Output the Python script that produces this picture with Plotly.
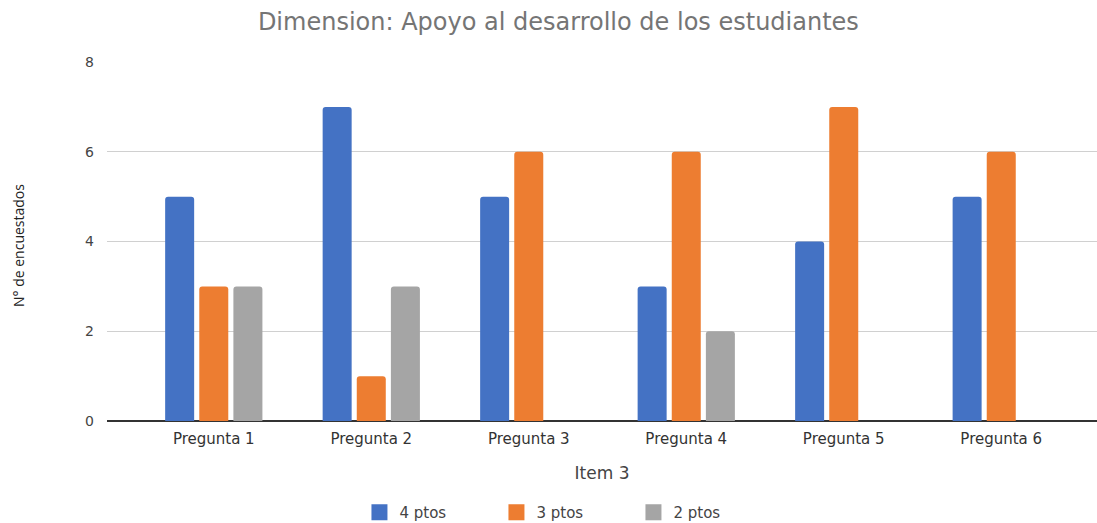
import plotly.graph_objects as go

categories = ["Pregunta 1", "Pregunta 2", "Pregunta 3", "Pregunta 4", "Pregunta 5", "Pregunta 6"]
series_names = ["4 ptos", "3 ptos", "2 ptos"]
pts4 = [5, 7, 5, 3, 4, 5]
pts3 = [3, 1, 6, 6, 7, 6]
pts2 = [3, 3, 0, 2, 0, 0]
y_ticks = [0, 2, 4, 6, 8]

colors = ["#4472C4", "#ED7D31", "#A5A5A5"]
wide_font = "DejaVu Sans, Verdana, sans-serif"

fig = go.Figure()
for name, vals, col in zip(series_names, [pts4, pts3, pts2], colors):
    fig.add_trace(go.Bar(
        x=categories, y=vals, name=name, marker_color=col,
        marker_line_width=0, showlegend=False, hoverinfo="x+y+name",
    ))
    # legend entry with a larger square swatch
    fig.add_trace(go.Scatter(
        x=[None], y=[None], mode="markers", name=name,
        marker=dict(symbol="square", size=22, color=col),
    ))

fig.update_layout(
    width=1097, height=523,
    margin=dict(l=107, r=0, t=62, b=102),
    paper_bgcolor="white", plot_bgcolor="white",
    font=dict(family=wide_font, color="#444444"),
    title=dict(
        text="Dimension: Apoyo al desarrollo de los estudiantes",
        x=0.509, xref="container", xanchor="center",
        y=0.958, yref="container", yanchor="middle",
        font=dict(size=24, color="#757575", family=wide_font),
    ),
    barmode="group",
    bargap=0.35,
    bargroupgap=0.15,
    barcornerradius=3,
    xaxis=dict(
        range=[-0.678, 5.608],
        showgrid=False,
        tickfont=dict(size=15, color="#333333", family=wide_font),
        ticks="", showline=False, ticklabelstandoff=7,
        title=dict(text="Item 3", font=dict(size=17, color="#444444", family=wide_font), standoff=20),
    ),
    yaxis=dict(
        range=[0, 8], tickvals=y_ticks,
        showgrid=True, gridcolor="#D0D0D0", gridwidth=1,
        zeroline=True, zerolinecolor="#333333", zerolinewidth=1.5,
        tickfont=dict(size=14, color="#444444", family=wide_font),
        ticks="", ticklabelstandoff=12,
    ),
    legend=dict(
        orientation="h", xref="container", x=0.515, xanchor="center",
        yref="container", y=0.02, yanchor="middle",
        font=dict(size=15, color="#444444", family=wide_font),
        itemsizing="trace", entrywidth=92,
    ),
    annotations=[dict(
        text="N° de encuestados", textangle=-90,
        xref="paper", yref="paper", x=-0.09, y=0.49,
        xanchor="center", yanchor="middle", showarrow=False,
        font=dict(size=14, color="#222222", family="Open Sans, sans-serif"),
    )],
)

fig.write_html("out.html")
